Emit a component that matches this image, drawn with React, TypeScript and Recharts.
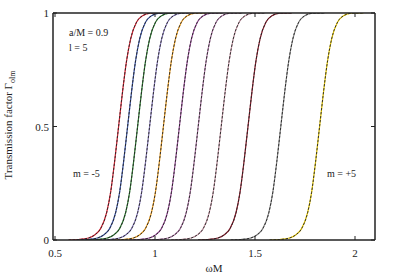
import React from "react";
import { LineChart, Line, XAxis, YAxis } from "recharts";

const gammaLevels = [0, 0.002, 0.009, 0.022, 0.05, 0.12, 0.21, 0.345, 0.5, 0.655, 0.79, 0.885, 0.96, 0.988, 0.999, 1];

const omegaM5 = [0.568, 0.618, 0.668, 0.698, 0.728, 0.758, 0.778, 0.798, 0.818, 0.838, 0.858, 0.878, 0.908, 0.938, 0.978, 1.038];
const omegaM4 = [0.613, 0.663, 0.713, 0.743, 0.773, 0.803, 0.823, 0.843, 0.863, 0.883, 0.903, 0.923, 0.953, 0.983, 1.023, 1.083];
const omegaM3 = [0.663, 0.713, 0.763, 0.793, 0.823, 0.853, 0.873, 0.893, 0.913, 0.933, 0.953, 0.973, 1.003, 1.033, 1.073, 1.133];
const omegaM2 = [0.723, 0.773, 0.823, 0.853, 0.883, 0.913, 0.933, 0.953, 0.973, 0.993, 1.013, 1.033, 1.063, 1.093, 1.133, 1.193];
const omegaM1 = [0.792, 0.842, 0.892, 0.922, 0.952, 0.982, 1.002, 1.022, 1.042, 1.062, 1.082, 1.102, 1.132, 1.162, 1.202, 1.262];
const omega0 = [0.872, 0.922, 0.972, 1.002, 1.032, 1.062, 1.082, 1.102, 1.122, 1.142, 1.162, 1.182, 1.212, 1.242, 1.282, 1.342];
const omegaP1 = [0.966, 1.016, 1.066, 1.096, 1.126, 1.156, 1.176, 1.196, 1.216, 1.236, 1.256, 1.276, 1.306, 1.336, 1.376, 1.436];
const omegaP2 = [1.081, 1.131, 1.181, 1.211, 1.241, 1.271, 1.291, 1.311, 1.331, 1.351, 1.371, 1.391, 1.421, 1.451, 1.491, 1.551];
const omegaP3 = [1.215, 1.265, 1.315, 1.345, 1.375, 1.405, 1.425, 1.445, 1.465, 1.485, 1.505, 1.525, 1.555, 1.585, 1.625, 1.685];
const omegaP4 = [1.379, 1.429, 1.479, 1.509, 1.539, 1.569, 1.589, 1.609, 1.629, 1.649, 1.669, 1.689, 1.719, 1.749, 1.789, 1.849];
const omegaP5 = [1.573, 1.623, 1.673, 1.703, 1.733, 1.763, 1.783, 1.803, 1.823, 1.843, 1.863, 1.883, 1.913, 1.943, 1.983, 2.043];

const curveNames = ["m=-5", "m=-4", "m=-3", "m=-2", "m=-1", "m=0", "m=+1", "m=+2", "m=+3", "m=+4", "m=+5"];
const curveOmegas = [omegaM5, omegaM4, omegaM3, omegaM2, omegaM1, omega0, omegaP1, omegaP2, omegaP3, omegaP4, omegaP5];
const curveColors = ["#dd2233", "#3b55a8", "#2e7d32", "#8c7fc0", "#f0a020", "#9c4f9c", "#b07aa8", "#c89aa8", "#8b1a2a", "#909090", "#e8c800"];

const xTicks = [0.5, 1, 1.5, 2];
const yTicks = [0, 0.5, 1];

const FONT = "Liberation Serif";
const AXIS = "#222";

const fmt = (v: number) => String(v);

const BottomTick = (p: any) => (
  <g>
    <line x1={p.x} y1={p.y} x2={p.x} y2={p.y - 4} stroke={AXIS} strokeWidth={1} />
    <text x={p.x} y={p.y + 17} textAnchor="middle" fontFamily={FONT} fontSize={11} fill="#222">
      {fmt(p.payload.value)}
    </text>
  </g>
);
const TopTick = (p: any) => (
  <line x1={p.x} y1={p.y} x2={p.x} y2={p.y + 4} stroke={AXIS} strokeWidth={1} />
);
const LeftTick = (p: any) => (
  <g>
    <line x1={p.x} y1={p.y} x2={p.x + 4} y2={p.y} stroke={AXIS} strokeWidth={1} />
    <text x={p.x - 4} y={p.y + 4} textAnchor="end" fontFamily={FONT} fontSize={11} fill="#222">
      {fmt(p.payload.value)}
    </text>
  </g>
);
const RightTick = (p: any) => (
  <line x1={p.x} y1={p.y} x2={p.x - 4} y2={p.y} stroke={AXIS} strokeWidth={1} />
);

export default function App() {
  const series = curveOmegas.map((om, k) => ({
    name: curveNames[k],
    color: curveColors[k],
    data: om.map((x, i) => ({ x, y: gammaLevels[i] })),
  }));
  return (
    <div style={{ position: "absolute", left: 0, top: 0, width: 395, height: 276, background: "#fff" }}>
      <LineChart width={395} height={276} margin={{ top: 12, right: 19, bottom: 35, left: 52 }}>
        <XAxis
          xAxisId="b"
          dataKey="x"
          type="number"
          domain={[0.49, 2.1]}
          allowDataOverflow
          ticks={xTicks}
          interval={0}
          height={1}
          tickSize={0}
          tickMargin={0}
          tick={BottomTick}
          axisLine={{ stroke: AXIS, strokeWidth: 1.5 }}
        />
        <XAxis
          xAxisId="t"
          orientation="top"
          dataKey="x"
          type="number"
          domain={[0.49, 2.1]}
          allowDataOverflow
          ticks={xTicks}
          interval={0}
          height={1}
          tickSize={0}
          tickMargin={0}
          tick={TopTick}
          axisLine={{ stroke: AXIS, strokeWidth: 1.5 }}
        />
        <YAxis
          yAxisId="l"
          type="number"
          domain={[0, 1]}
          allowDataOverflow
          ticks={yTicks}
          interval={0}
          width={1}
          tickSize={0}
          tickMargin={0}
          tick={LeftTick}
          axisLine={{ stroke: AXIS, strokeWidth: 1.5 }}
        />
        <YAxis
          yAxisId="r"
          orientation="right"
          type="number"
          domain={[0, 1]}
          allowDataOverflow
          ticks={yTicks}
          interval={0}
          width={1}
          tickSize={0}
          tickMargin={0}
          tick={RightTick}
          axisLine={{ stroke: AXIS, strokeWidth: 1.5 }}
        />
        {series.map((s) => (
          <Line
            key={s.name + "c"}
            xAxisId="b"
            yAxisId="l"
            data={s.data}
            dataKey="y"
            type="monotone"
            stroke={s.color}
            strokeWidth={1.2}
            dot={false}
            activeDot={false}
            isAnimationActive={false}
          />
        ))}
        {series.map((s) => (
          <Line
            key={s.name + "d"}
            xAxisId="b"
            yAxisId="l"
            data={s.data}
            dataKey="y"
            type="monotone"
            stroke="#222"
            strokeWidth={0.9}
            strokeDasharray="2.5 1.5"
            dot={false}
            activeDot={false}
            isAnimationActive={false}
          />
        ))}
      </LineChart>
      <svg width={395} height={276} style={{ position: "absolute", left: 0, top: 0, pointerEvents: "none" }}>
        <g fill="#222">
          <text x={69} y={36} fontSize={10} fontFamily={FONT}>a/M = 0.9</text>
          <text x={69} y={51} fontSize={10} fontFamily={FONT}>l = 5</text>
          <text x={73} y={177} fontSize={10} fontFamily={FONT}>m = -5</text>
          <text x={327} y={177} fontSize={10} fontFamily={FONT}>m = +5</text>
          <text x={214} y={272} fontSize={11} fontFamily={FONT} textAnchor="middle">ωM</text>
          <text transform="translate(12,125) rotate(-90)" fontSize={11} fontFamily={FONT} textAnchor="middle">
            Transmission factor Γ<tspan fontSize={8} dy={3}>olm</tspan>
          </text>
        </g>
      </svg>
    </div>
  );
}
